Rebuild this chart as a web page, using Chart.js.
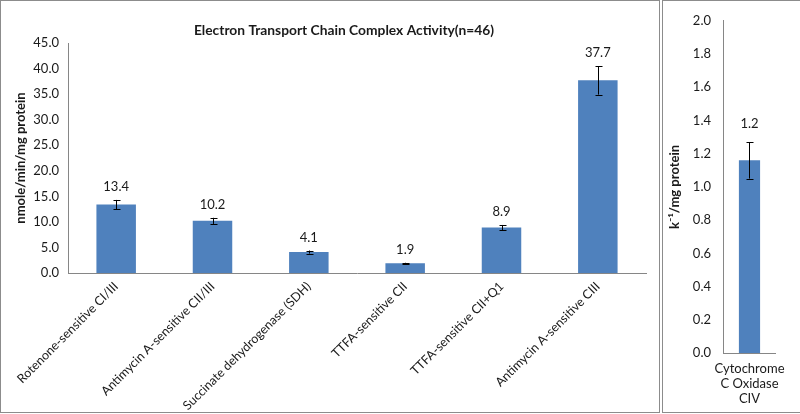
<!DOCTYPE html>
<html>
<head>
<meta charset="utf-8">
<script src="https://cdn.jsdelivr.net/npm/chart.js@4"></script>
<style>
  html, body { margin: 0; padding: 0; background: #fff; width: 800px; height: 414px; overflow: hidden; }
  .panel { position: absolute; top: 0; border: 1px solid #8c8c8c; background: #fff; }
  #p1 { left: 0; width: 658px; height: 411px; }
  #p2 { left: 662px; width: 140px; height: 411px; }
  canvas { display: block; }
</style>
</head>
<body>
<div class="panel" id="p1"><canvas id="c1" width="658" height="411"></canvas></div>
<div class="panel" id="p2"><canvas id="c2" width="137" height="411"></canvas></div>
<script>
// ---- data ----
const categories = [
  "Rotenone-sensitive CI/III",
  "Antimycin A-sensitive CII/III",
  "Succinate dehydrogenase (SDH)",
  "TTFA-sensitive CII",
  "TTFA-sensitive CII+Q1",
  "Antimycin A-sensitive CIII"
];
const activity = [13.4, 10.2, 4.1, 1.9, 8.9, 37.7];
const activityErr = [0.9, 0.6, 0.3, 0.1, 0.5, 2.8];
const leftTicksMax = 45;
const leftTickStep = 5;

const civCategory = [["Cytochrome", "C Oxidase", "CIV"]];
const civActivity = [1.16];
const civErr = [0.11];
const rightTicksMax = 2;
const rightTickStep = 0.2;

const chartTitle = "Electron Transport Chain Complex Activity(n=46)";
const leftAxisTitle = "nmole/min/mg protein";
const rightAxisTitle = "k\u207B\u00B9/mg protein";

// ---- styles ----
const FONT = "Lato, 'Liberation Sans', sans-serif";
const BAR = "#4F81BD";
const AXIS = "#868686";
const TEXT = "#1a1a1a";

const errorBarPlugin = {
  id: "errbars",
  afterDatasetsDraw(chart, args, opts) {
    const ctx = chart.ctx;
    const meta = chart.getDatasetMeta(0);
    const ys = chart.scales.y;
    const vals = chart.data.datasets[0].data;
    ctx.save();
    meta.data.forEach((bar, i) => {
      const v = vals[i], e = opts.errors[i];
      const top = ys.getPixelForValue(v + e);
      const bot = ys.getPixelForValue(v - e);
      const x = Math.round(bar.x) + 0.5;
      ctx.strokeStyle = "#000";
      ctx.lineWidth = 1;
      ctx.beginPath();
      ctx.moveTo(x, top); ctx.lineTo(x, bot);
      ctx.moveTo(x - 3, Math.round(top) + 0.5); ctx.lineTo(x + 4, Math.round(top) + 0.5);
      ctx.moveTo(x - 3, Math.round(bot) + 0.5); ctx.lineTo(x + 4, Math.round(bot) + 0.5);
      ctx.stroke();
      ctx.fillStyle = TEXT;
      ctx.font = "13px " + FONT;
      ctx.textAlign = "center";
      ctx.textBaseline = "middle";
      ctx.fillText(v.toFixed(1), bar.x, top - opts.labelGap);
    });
    ctx.restore();
  }
};

const titlePlugin = {
  id: "ftitle",
  afterDraw(chart, args, opts) {
    if (!opts.text) return;
    const ctx = chart.ctx;
    ctx.save();
    ctx.fillStyle = TEXT;
    ctx.font = "bold 13.8px " + FONT;
    ctx.textAlign = "center";
    ctx.textBaseline = "middle";
    ctx.fillText(opts.text, opts.x, opts.y);
    ctx.restore();
  }
};

Chart.defaults.font.family = FONT;
Chart.defaults.color = TEXT;

new Chart(document.getElementById("c1"), {
  type: "bar",
  data: {
    labels: categories,
    datasets: [{ data: activity, backgroundColor: BAR, borderWidth: 0, barPercentage: 0.82, categoryPercentage: 0.5 }]
  },
  options: {
    responsive: false,
    animation: false,
    events: [],
    layout: { padding: { top: 42, right: 13, left: 0, bottom: 0 } },
    plugins: {
      legend: { display: false },
      tooltip: { enabled: false },
      errbars: { errors: activityErr, labelGap: 13 },
      ftitle: { text: chartTitle, x: 343, y: 30 }
    },
    scales: {
      x: {
        grid: { display: false, drawTicks: false },
        border: { display: true, color: AXIS, width: 1 },
        ticks: { autoSkip: false, maxRotation: 45, minRotation: 45, padding: 6, font: { size: 12.5 }, color: TEXT },
        afterFit(s) { s.height = 139; }
      },
      y: {
        min: 0, max: leftTicksMax,
        grid: { display: false, drawTicks: false },
        border: { display: true, color: AXIS, width: 1 },
        ticks: { stepSize: leftTickStep, padding: 9, font: { size: 13 }, color: TEXT, callback: v => Number(v).toFixed(1) },
        title: { display: true, text: leftAxisTitle, font: { size: 13, weight: "bold" }, color: TEXT, padding: { top: 12, bottom: 0 } },
        afterFit(s) { s.width = 67; }
      }
    }
  },
  plugins: [errorBarPlugin, titlePlugin]
});

new Chart(document.getElementById("c2"), {
  type: "bar",
  data: {
    labels: civCategory,
    datasets: [{ data: civActivity, backgroundColor: BAR, borderWidth: 0, barPercentage: 0.8, categoryPercentage: 0.5 }]
  },
  options: {
    responsive: false,
    animation: false,
    events: [],
    layout: { padding: { top: 14, right: 15, left: 0, bottom: 0 } },
    plugins: {
      legend: { display: false },
      tooltip: { enabled: false },
      errbars: { errors: civErr, labelGap: 18 },
      ftitle: { text: "" }
    },
    scales: {
      x: {
        grid: { display: false, drawTicks: false },
        border: { display: true, color: AXIS, width: 1 },
        ticks: { maxRotation: 0, minRotation: 0, padding: 8, font: { size: 13, lineHeight: 1.15 }, color: TEXT },
        afterFit(s) { s.height = 59; }
      },
      y: {
        min: 0, max: rightTicksMax,
        grid: { display: false, drawTicks: false },
        border: { display: true, color: AXIS, width: 1 },
        ticks: { stepSize: rightTickStep, padding: 12, font: { size: 13 }, color: TEXT, callback: v => Number(v).toFixed(1) },
        title: { display: true, text: rightAxisTitle, font: { size: 13, weight: "bold" }, color: TEXT, padding: { top: 4, bottom: 0 } },
        afterFit(s) { s.width = 60; }
      }
    }
  },
  plugins: [errorBarPlugin, titlePlugin]
});
</script>
</body>
</html>
